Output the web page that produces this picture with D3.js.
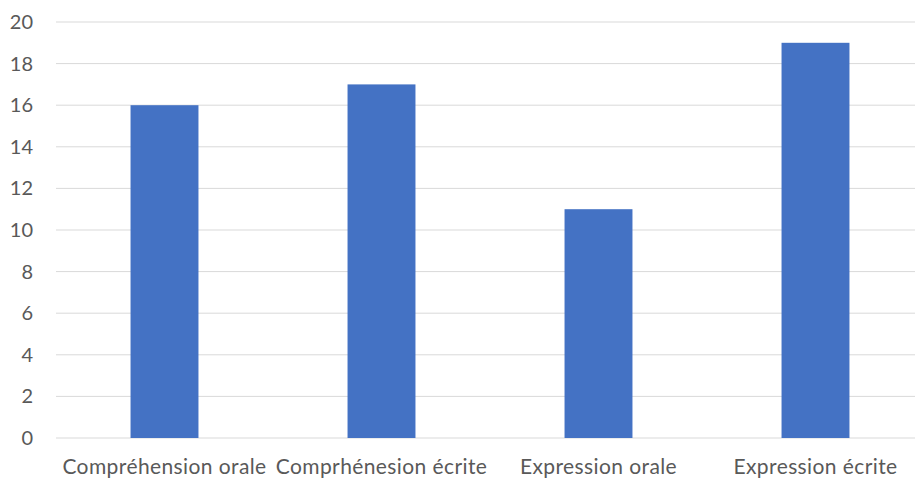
<!DOCTYPE html>
<html>
<head>
<meta charset="utf-8">
<script src="https://cdn.jsdelivr.net/npm/d3@7"></script>
<style>
  body { margin: 0; background: #fff; overflow: hidden; }
  text { font-family: Lato, "Open Sans", sans-serif; }
</style>
</head>
<body>
<svg id="frame"></svg>
<script>
const categories = ['Compréhension orale', 'Comprhénesion écrite', 'Expression orale', 'Expression écrite'];
const values = [16, 17, 11, 19];
const yTicks = [0, 2, 4, 6, 8, 10, 12, 14, 16, 18, 20];

const width = 915;
const height = 480;
const margin = {left: 56, right: -9, top: 22, bottom: 42};
const innerWidth = width - margin.left - margin.right;
const innerHeight = height - margin.top - margin.bottom;

const svg = d3.select('#frame')
  .attr('width', width)
  .attr('height', height)
  .style('display', 'block');

const g = svg.append('g').attr('transform', `translate(${margin.left},${margin.top})`);

const xScale = d3.scaleBand()
  .domain(categories)
  .range([0, innerWidth])
  .paddingInner(0.687)
  .paddingOuter(0.3435);

const yScale = d3.scaleLinear()
  .domain([0, 20])
  .range([innerHeight, 0]);

// grid
g.selectAll('.grid').data(yTicks).enter()
  .append('line')
  .attr('class', 'grid')
  .attr('x1', 0)
  .attr('x2', innerWidth)
  .attr('y1', d => yScale(d))
  .attr('y2', d => yScale(d))
  .attr('stroke', '#d9d9d9')
  .attr('stroke-width', 1);

// y axis
const yaxis = d3.axisLeft(yScale).tickValues(yTicks).tickSize(0).tickPadding(23);
g.append('g').call(yaxis)
  .call(a => a.select('.domain').remove())
  .call(a => a.selectAll('text').attr('fill', '#595959').style('font-size', '20px'));

// bars
g.selectAll('rect').data(values).enter()
  .append('rect')
  .attr('x', (d, i) => xScale(categories[i]))
  .attr('y', d => yScale(d))
  .attr('width', xScale.bandwidth())
  .attr('height', d => innerHeight - yScale(d))
  .attr('fill', '#4472c4');

// x axis
const xaxis = d3.axisBottom(xScale).tickSize(0).tickPadding(21);
g.append('g').attr('transform', `translate(0,${innerHeight})`).call(xaxis)
  .call(a => a.select('.domain').remove())
  .call(a => a.selectAll('text').attr('fill', '#595959')
    .style('font-size', '21px').style('letter-spacing', '0.4px'));
</script>
</body>
</html>
